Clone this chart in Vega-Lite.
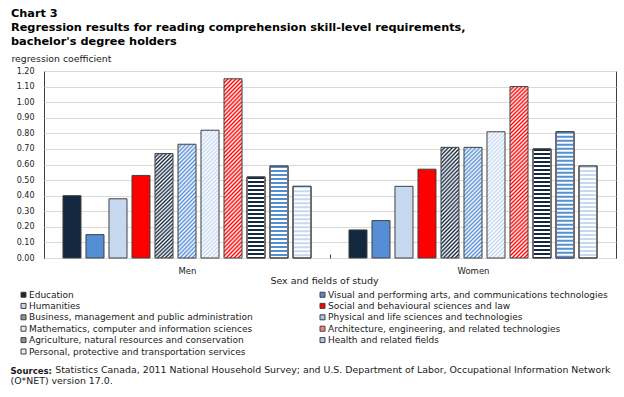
{
"$schema":"https://vega.github.io/schema/vega-lite/v6.json",
"background":"white",
"padding":{"left":10,"top":7,"right":4,"bottom":4},
"config":{"font":"DejaVu Sans","view":{"stroke":"#404040","strokeWidth":1},
"axis":{"labelFont":"DejaVu Sans","titleFont":"DejaVu Sans","labelColor":"#1a1a1a","titleColor":"#1a1a1a","labelFontSize":8.5,"titleFontSize":9.5,"titleFontWeight":"normal"}},
"title":{"text":"Sources:","orient":"bottom","anchor":"start","fontSize":8.5,"fontWeight":"bold","font":"DejaVu Sans","color":"#1a1a1a","offset":10,
"subtitle":["\u200b\u00a0\u00a0\u00a0\u00a0\u00a0\u00a0\u00a0\u00a0\u00a0\u00a0\u00a0\u00a0\u00a0\u00a0\u00a0Statistics Canada, 2011 National Household Survey; and U.S. Department of Labor, Occupational Information Network","(O*NET) version 17.0."],
"subtitleFont":"DejaVu Sans","subtitleFontSize":9.4,"subtitleColor":"#1a1a1a","subtitlePadding":-9.2,"subtitleLineHeight":11},
"vconcat":[{
"title":{"text":["Chart 3","Regression results for reading comprehension skill-level requirements,","bachelor's degree holders"],"anchor":"start","fontSize":11.3,"fontWeight":"bold","font":"DejaVu Sans","lineHeight":14,"color":"#000","offset":7},
"width":572,"height":187,
"data":{"values":[
{"sex":"Men","field":"Education","coefficient":0.40},
{"sex":"Men","field":"Visual and performing arts, and communications technologies","coefficient":0.15},
{"sex":"Men","field":"Humanities","coefficient":0.38},
{"sex":"Men","field":"Social and behavioural sciences and law","coefficient":0.53},
{"sex":"Men","field":"Business, management and public administration","coefficient":0.67},
{"sex":"Men","field":"Physical and life sciences and technologies","coefficient":0.73},
{"sex":"Men","field":"Mathematics, computer and information sciences","coefficient":0.82},
{"sex":"Men","field":"Architecture, engineering, and related technologies","coefficient":1.15},
{"sex":"Men","field":"Agriculture, natural resources and conservation","coefficient":0.52},
{"sex":"Men","field":"Health and related fields","coefficient":0.59},
{"sex":"Men","field":"Personal, protective and transportation services","coefficient":0.46},
{"sex":"Women","field":"Education","coefficient":0.18},
{"sex":"Women","field":"Visual and performing arts, and communications technologies","coefficient":0.24},
{"sex":"Women","field":"Humanities","coefficient":0.46},
{"sex":"Women","field":"Social and behavioural sciences and law","coefficient":0.57},
{"sex":"Women","field":"Business, management and public administration","coefficient":0.71},
{"sex":"Women","field":"Physical and life sciences and technologies","coefficient":0.71},
{"sex":"Women","field":"Mathematics, computer and information sciences","coefficient":0.81},
{"sex":"Women","field":"Architecture, engineering, and related technologies","coefficient":1.10},
{"sex":"Women","field":"Agriculture, natural resources and conservation","coefficient":0.70},
{"sex":"Women","field":"Health and related fields","coefficient":0.81},
{"sex":"Women","field":"Personal, protective and transportation services","coefficient":0.59}
]},
"layer":[
{"mark":{"type":"bar","stroke":"#404040","strokeWidth":1},
"encoding":{
"x":{"field":"sex","type":"nominal","sort":["Men","Women"],"scale":{"paddingInner":0,"paddingOuter":0},"title":"Sex and fields of study",
"axis":{"labelAngle":0,"domain":false,"tickBand":"extent","tickSize":-4,"tickColor":"#404040","labelPadding":12,"titlePadding":1,"titleX":280,"titleAlign":"center"}},
"xOffset":{"field":"field","type":"nominal","scale":{"domain":["Education","Visual and performing arts, and communications technologies","Humanities","Social and behavioural sciences and law","Business, management and public administration","Physical and life sciences and technologies","Mathematics, computer and information sciences","Architecture, engineering, and related technologies","Agriculture, natural resources and conservation","Health and related fields","Personal, protective and transportation services"],"paddingInner":0.217,"paddingOuter":0.825}},
"y":{"field":"coefficient","type":"quantitative","scale":{"domain":[0,1.2],"nice":false},"title":"regression coefficient",
"axis":{"values":[0,0.1,0.2,0.3,0.4,0.5,0.6,0.7,0.8,0.9,1.0,1.1,1.2],"tickCount":13,"labelOverlap":false,"labelFontSize":8,"format":".2f","grid":true,"gridColor":"#d9d9d9","ticks":false,"domain":false,"labelPadding":10,"titleAngle":0,"titleAlign":"left","titleX":-33,"titleY":-10,"titleBaseline":"alphabetic","titleFontSize":9.3}},
"fill":{"condition":[
{"test":"datum.field==='Business, management and public administration'","value":{"gradient":"linear","x1":0,"y1":0,"x2":0.191,"y2":1.136,"stops":[{"offset":0,"color":"#13273f"},{"offset":0.0156,"color":"#fff"},{"offset":0.0313,"color":"#13273f"},{"offset":0.0469,"color":"#fff"},{"offset":0.0625,"color":"#13273f"},{"offset":0.0781,"color":"#fff"},{"offset":0.0938,"color":"#13273f"},{"offset":0.1094,"color":"#fff"},{"offset":0.125,"color":"#13273f"},{"offset":0.1406,"color":"#fff"},{"offset":0.1563,"color":"#13273f"},{"offset":0.1719,"color":"#fff"},{"offset":0.1875,"color":"#13273f"},{"offset":0.2031,"color":"#fff"},{"offset":0.2188,"color":"#13273f"},{"offset":0.2344,"color":"#fff"},{"offset":0.25,"color":"#13273f"},{"offset":0.2656,"color":"#fff"},{"offset":0.2813,"color":"#13273f"},{"offset":0.2969,"color":"#fff"},{"offset":0.3125,"color":"#13273f"},{"offset":0.3281,"color":"#fff"},{"offset":0.3438,"color":"#13273f"},{"offset":0.3594,"color":"#fff"},{"offset":0.375,"color":"#13273f"},{"offset":0.3906,"color":"#fff"},{"offset":0.4063,"color":"#13273f"},{"offset":0.4219,"color":"#fff"},{"offset":0.4375,"color":"#13273f"},{"offset":0.4531,"color":"#fff"},{"offset":0.4688,"color":"#13273f"},{"offset":0.4844,"color":"#fff"},{"offset":0.5,"color":"#13273f"},{"offset":0.5156,"color":"#fff"},{"offset":0.5313,"color":"#13273f"},{"offset":0.5469,"color":"#fff"},{"offset":0.5625,"color":"#13273f"},{"offset":0.5781,"color":"#fff"},{"offset":0.5938,"color":"#13273f"},{"offset":0.6094,"color":"#fff"},{"offset":0.625,"color":"#13273f"},{"offset":0.6406,"color":"#fff"},{"offset":0.6563,"color":"#13273f"},{"offset":0.6719,"color":"#fff"},{"offset":0.6875,"color":"#13273f"},{"offset":0.7031,"color":"#fff"},{"offset":0.7188,"color":"#13273f"},{"offset":0.7344,"color":"#fff"},{"offset":0.75,"color":"#13273f"},{"offset":0.7656,"color":"#fff"},{"offset":0.7813,"color":"#13273f"},{"offset":0.7969,"color":"#fff"},{"offset":0.8125,"color":"#13273f"},{"offset":0.8281,"color":"#fff"},{"offset":0.8438,"color":"#13273f"},{"offset":0.8594,"color":"#fff"},{"offset":0.875,"color":"#13273f"},{"offset":0.8906,"color":"#fff"},{"offset":0.9063,"color":"#13273f"},{"offset":0.9219,"color":"#fff"},{"offset":0.9375,"color":"#13273f"},{"offset":0.9531,"color":"#fff"},{"offset":0.9688,"color":"#13273f"},{"offset":0.9844,"color":"#fff"},{"offset":1,"color":"#13273f"}]}},
{"test":"datum.field==='Physical and life sciences and technologies'","value":{"gradient":"linear","x1":0,"y1":0,"x2":0.183,"y2":1.132,"stops":[{"offset":0,"color":"#558ed5"},{"offset":0.0156,"color":"#fff"},{"offset":0.0313,"color":"#558ed5"},{"offset":0.0469,"color":"#fff"},{"offset":0.0625,"color":"#558ed5"},{"offset":0.0781,"color":"#fff"},{"offset":0.0938,"color":"#558ed5"},{"offset":0.1094,"color":"#fff"},{"offset":0.125,"color":"#558ed5"},{"offset":0.1406,"color":"#fff"},{"offset":0.1563,"color":"#558ed5"},{"offset":0.1719,"color":"#fff"},{"offset":0.1875,"color":"#558ed5"},{"offset":0.2031,"color":"#fff"},{"offset":0.2188,"color":"#558ed5"},{"offset":0.2344,"color":"#fff"},{"offset":0.25,"color":"#558ed5"},{"offset":0.2656,"color":"#fff"},{"offset":0.2813,"color":"#558ed5"},{"offset":0.2969,"color":"#fff"},{"offset":0.3125,"color":"#558ed5"},{"offset":0.3281,"color":"#fff"},{"offset":0.3438,"color":"#558ed5"},{"offset":0.3594,"color":"#fff"},{"offset":0.375,"color":"#558ed5"},{"offset":0.3906,"color":"#fff"},{"offset":0.4063,"color":"#558ed5"},{"offset":0.4219,"color":"#fff"},{"offset":0.4375,"color":"#558ed5"},{"offset":0.4531,"color":"#fff"},{"offset":0.4688,"color":"#558ed5"},{"offset":0.4844,"color":"#fff"},{"offset":0.5,"color":"#558ed5"},{"offset":0.5156,"color":"#fff"},{"offset":0.5313,"color":"#558ed5"},{"offset":0.5469,"color":"#fff"},{"offset":0.5625,"color":"#558ed5"},{"offset":0.5781,"color":"#fff"},{"offset":0.5938,"color":"#558ed5"},{"offset":0.6094,"color":"#fff"},{"offset":0.625,"color":"#558ed5"},{"offset":0.6406,"color":"#fff"},{"offset":0.6563,"color":"#558ed5"},{"offset":0.6719,"color":"#fff"},{"offset":0.6875,"color":"#558ed5"},{"offset":0.7031,"color":"#fff"},{"offset":0.7188,"color":"#558ed5"},{"offset":0.7344,"color":"#fff"},{"offset":0.75,"color":"#558ed5"},{"offset":0.7656,"color":"#fff"},{"offset":0.7813,"color":"#558ed5"},{"offset":0.7969,"color":"#fff"},{"offset":0.8125,"color":"#558ed5"},{"offset":0.8281,"color":"#fff"},{"offset":0.8438,"color":"#558ed5"},{"offset":0.8594,"color":"#fff"},{"offset":0.875,"color":"#558ed5"},{"offset":0.8906,"color":"#fff"},{"offset":0.9063,"color":"#558ed5"},{"offset":0.9219,"color":"#fff"},{"offset":0.9375,"color":"#558ed5"},{"offset":0.9531,"color":"#fff"},{"offset":0.9688,"color":"#558ed5"},{"offset":0.9844,"color":"#fff"},{"offset":1,"color":"#558ed5"}]}},
{"test":"datum.field==='Mathematics, computer and information sciences'","value":{"gradient":"linear","x1":0,"y1":0,"x2":0.159,"y2":1.12,"stops":[{"offset":0,"color":"#c6d9f1"},{"offset":0.0139,"color":"#fff"},{"offset":0.0278,"color":"#c6d9f1"},{"offset":0.0417,"color":"#fff"},{"offset":0.0556,"color":"#c6d9f1"},{"offset":0.0694,"color":"#fff"},{"offset":0.0833,"color":"#c6d9f1"},{"offset":0.0972,"color":"#fff"},{"offset":0.1111,"color":"#c6d9f1"},{"offset":0.125,"color":"#fff"},{"offset":0.1389,"color":"#c6d9f1"},{"offset":0.1528,"color":"#fff"},{"offset":0.1667,"color":"#c6d9f1"},{"offset":0.1806,"color":"#fff"},{"offset":0.1944,"color":"#c6d9f1"},{"offset":0.2083,"color":"#fff"},{"offset":0.2222,"color":"#c6d9f1"},{"offset":0.2361,"color":"#fff"},{"offset":0.25,"color":"#c6d9f1"},{"offset":0.2639,"color":"#fff"},{"offset":0.2778,"color":"#c6d9f1"},{"offset":0.2917,"color":"#fff"},{"offset":0.3056,"color":"#c6d9f1"},{"offset":0.3194,"color":"#fff"},{"offset":0.3333,"color":"#c6d9f1"},{"offset":0.3472,"color":"#fff"},{"offset":0.3611,"color":"#c6d9f1"},{"offset":0.375,"color":"#fff"},{"offset":0.3889,"color":"#c6d9f1"},{"offset":0.4028,"color":"#fff"},{"offset":0.4167,"color":"#c6d9f1"},{"offset":0.4306,"color":"#fff"},{"offset":0.4444,"color":"#c6d9f1"},{"offset":0.4583,"color":"#fff"},{"offset":0.4722,"color":"#c6d9f1"},{"offset":0.4861,"color":"#fff"},{"offset":0.5,"color":"#c6d9f1"},{"offset":0.5139,"color":"#fff"},{"offset":0.5278,"color":"#c6d9f1"},{"offset":0.5417,"color":"#fff"},{"offset":0.5556,"color":"#c6d9f1"},{"offset":0.5694,"color":"#fff"},{"offset":0.5833,"color":"#c6d9f1"},{"offset":0.5972,"color":"#fff"},{"offset":0.6111,"color":"#c6d9f1"},{"offset":0.625,"color":"#fff"},{"offset":0.6389,"color":"#c6d9f1"},{"offset":0.6528,"color":"#fff"},{"offset":0.6667,"color":"#c6d9f1"},{"offset":0.6806,"color":"#fff"},{"offset":0.6944,"color":"#c6d9f1"},{"offset":0.7083,"color":"#fff"},{"offset":0.7222,"color":"#c6d9f1"},{"offset":0.7361,"color":"#fff"},{"offset":0.75,"color":"#c6d9f1"},{"offset":0.7639,"color":"#fff"},{"offset":0.7778,"color":"#c6d9f1"},{"offset":0.7917,"color":"#fff"},{"offset":0.8056,"color":"#c6d9f1"},{"offset":0.8194,"color":"#fff"},{"offset":0.8333,"color":"#c6d9f1"},{"offset":0.8472,"color":"#fff"},{"offset":0.8611,"color":"#c6d9f1"},{"offset":0.875,"color":"#fff"},{"offset":0.8889,"color":"#c6d9f1"},{"offset":0.9028,"color":"#fff"},{"offset":0.9167,"color":"#c6d9f1"},{"offset":0.9306,"color":"#fff"},{"offset":0.9444,"color":"#c6d9f1"},{"offset":0.9583,"color":"#fff"},{"offset":0.9722,"color":"#c6d9f1"},{"offset":0.9861,"color":"#fff"},{"offset":1,"color":"#c6d9f1"}]}},
{"test":"datum.field==='Architecture, engineering, and related technologies'","value":{"gradient":"linear","x1":0,"y1":0,"x2":0.1125,"y2":1.0915,"stops":[{"offset":0,"color":"#ff0000"},{"offset":0.0104,"color":"#fff"},{"offset":0.0208,"color":"#ff0000"},{"offset":0.0313,"color":"#fff"},{"offset":0.0417,"color":"#ff0000"},{"offset":0.0521,"color":"#fff"},{"offset":0.0625,"color":"#ff0000"},{"offset":0.0729,"color":"#fff"},{"offset":0.0833,"color":"#ff0000"},{"offset":0.0938,"color":"#fff"},{"offset":0.1042,"color":"#ff0000"},{"offset":0.1146,"color":"#fff"},{"offset":0.125,"color":"#ff0000"},{"offset":0.1354,"color":"#fff"},{"offset":0.1458,"color":"#ff0000"},{"offset":0.1563,"color":"#fff"},{"offset":0.1667,"color":"#ff0000"},{"offset":0.1771,"color":"#fff"},{"offset":0.1875,"color":"#ff0000"},{"offset":0.1979,"color":"#fff"},{"offset":0.2083,"color":"#ff0000"},{"offset":0.2188,"color":"#fff"},{"offset":0.2292,"color":"#ff0000"},{"offset":0.2396,"color":"#fff"},{"offset":0.25,"color":"#ff0000"},{"offset":0.2604,"color":"#fff"},{"offset":0.2708,"color":"#ff0000"},{"offset":0.2813,"color":"#fff"},{"offset":0.2917,"color":"#ff0000"},{"offset":0.3021,"color":"#fff"},{"offset":0.3125,"color":"#ff0000"},{"offset":0.3229,"color":"#fff"},{"offset":0.3333,"color":"#ff0000"},{"offset":0.3438,"color":"#fff"},{"offset":0.3542,"color":"#ff0000"},{"offset":0.3646,"color":"#fff"},{"offset":0.375,"color":"#ff0000"},{"offset":0.3854,"color":"#fff"},{"offset":0.3958,"color":"#ff0000"},{"offset":0.4063,"color":"#fff"},{"offset":0.4167,"color":"#ff0000"},{"offset":0.4271,"color":"#fff"},{"offset":0.4375,"color":"#ff0000"},{"offset":0.4479,"color":"#fff"},{"offset":0.4583,"color":"#ff0000"},{"offset":0.4688,"color":"#fff"},{"offset":0.4792,"color":"#ff0000"},{"offset":0.4896,"color":"#fff"},{"offset":0.5,"color":"#ff0000"},{"offset":0.5104,"color":"#fff"},{"offset":0.5208,"color":"#ff0000"},{"offset":0.5313,"color":"#fff"},{"offset":0.5417,"color":"#ff0000"},{"offset":0.5521,"color":"#fff"},{"offset":0.5625,"color":"#ff0000"},{"offset":0.5729,"color":"#fff"},{"offset":0.5833,"color":"#ff0000"},{"offset":0.5938,"color":"#fff"},{"offset":0.6042,"color":"#ff0000"},{"offset":0.6146,"color":"#fff"},{"offset":0.625,"color":"#ff0000"},{"offset":0.6354,"color":"#fff"},{"offset":0.6458,"color":"#ff0000"},{"offset":0.6563,"color":"#fff"},{"offset":0.6667,"color":"#ff0000"},{"offset":0.6771,"color":"#fff"},{"offset":0.6875,"color":"#ff0000"},{"offset":0.6979,"color":"#fff"},{"offset":0.7083,"color":"#ff0000"},{"offset":0.7188,"color":"#fff"},{"offset":0.7292,"color":"#ff0000"},{"offset":0.7396,"color":"#fff"},{"offset":0.75,"color":"#ff0000"},{"offset":0.7604,"color":"#fff"},{"offset":0.7708,"color":"#ff0000"},{"offset":0.7813,"color":"#fff"},{"offset":0.7917,"color":"#ff0000"},{"offset":0.8021,"color":"#fff"},{"offset":0.8125,"color":"#ff0000"},{"offset":0.8229,"color":"#fff"},{"offset":0.8333,"color":"#ff0000"},{"offset":0.8438,"color":"#fff"},{"offset":0.8542,"color":"#ff0000"},{"offset":0.8646,"color":"#fff"},{"offset":0.875,"color":"#ff0000"},{"offset":0.8854,"color":"#fff"},{"offset":0.8958,"color":"#ff0000"},{"offset":0.9063,"color":"#fff"},{"offset":0.9167,"color":"#ff0000"},{"offset":0.9271,"color":"#fff"},{"offset":0.9375,"color":"#ff0000"},{"offset":0.9479,"color":"#fff"},{"offset":0.9583,"color":"#ff0000"},{"offset":0.9688,"color":"#fff"},{"offset":0.9792,"color":"#ff0000"},{"offset":0.9896,"color":"#fff"},{"offset":1,"color":"#ff0000"}]}},
{"test":"indexof(['Agriculture, natural resources and conservation','Health and related fields','Personal, protective and transportation services'], datum.field) >= 0","value":"#ffffff"}
],
"field":"field","type":"nominal",
"scale":{"domain":["Education","Humanities","Business, management and public administration","Mathematics, computer and information sciences","Agriculture, natural resources and conservation","Personal, protective and transportation services","Visual and performing arts, and communications technologies","Social and behavioural sciences and law","Physical and life sciences and technologies","Architecture, engineering, and related technologies","Health and related fields"],
"range":["#13273f","#c6d9f1","#89939f","#e3ecf8","#89939f","#e3ecf8","#558ed5","#ff0000","#aac6ea","#ff8080","#aac6ea"]},
"legend":{"orient":"none","legendX":-25,"legendY":219,"columns":2,"columnPadding":65,"rowPadding":1.4,"symbolType":"square","symbolSize":25,"symbolStrokeColor":"#404040","symbolStrokeWidth":1,"labelFont":"DejaVu Sans","labelFontSize":9,"labelColor":"#1a1a1a","labelLimit":400,"labelOffset":1,"title":null,"padding":0}}
}},
{"transform":[{"filter":{"field":"field","oneOf":["Agriculture, natural resources and conservation","Health and related fields","Personal, protective and transportation services"]}}],
"mark":{"type":"rule","strokeWidth":16,"strokeDash":[2,2]},
"encoding":{
"x":{"field":"sex","type":"nominal","sort":["Men","Women"]},
"xOffset":{"field":"field","type":"nominal","scale":{"domain":["Education","Visual and performing arts, and communications technologies","Humanities","Social and behavioural sciences and law","Business, management and public administration","Physical and life sciences and technologies","Mathematics, computer and information sciences","Architecture, engineering, and related technologies","Agriculture, natural resources and conservation","Health and related fields","Personal, protective and transportation services"]}},
"y":{"field":"coefficient","type":"quantitative"},
"y2":{"datum":0},
"stroke":{"field":"field","type":"nominal","scale":{"domain":["Agriculture, natural resources and conservation","Health and related fields","Personal, protective and transportation services"],"range":["#13273f","#558ed5","#c6d9f1"]},"legend":null}
}},
{"transform":[{"filter":{"field":"field","oneOf":["Agriculture, natural resources and conservation","Health and related fields","Personal, protective and transportation services"]}}],
"mark":{"type":"bar","fillOpacity":0,"stroke":"#404040","strokeWidth":1},
"encoding":{
"x":{"field":"sex","type":"nominal","sort":["Men","Women"]},
"xOffset":{"field":"field","type":"nominal","scale":{"domain":["Education","Visual and performing arts, and communications technologies","Humanities","Social and behavioural sciences and law","Business, management and public administration","Physical and life sciences and technologies","Mathematics, computer and information sciences","Architecture, engineering, and related technologies","Agriculture, natural resources and conservation","Health and related fields","Personal, protective and transportation services"]}},
"y":{"field":"coefficient","type":"quantitative"}
}}
]
}]
}
